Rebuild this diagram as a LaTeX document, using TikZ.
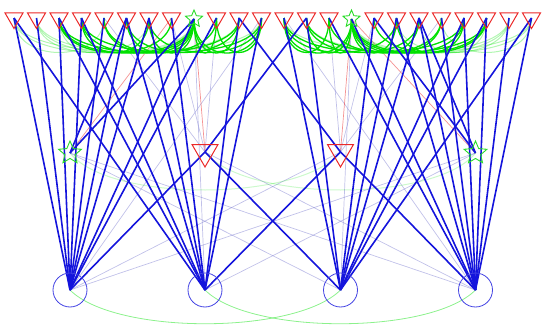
\documentclass[tikz,border=0pt]{standalone}
\usetikzlibrary{shapes.geometric,backgrounds}
\definecolor{edgeblue}{RGB}{20,20,220}
\definecolor{nodered}{RGB}{235,40,40}
\definecolor{nodegreen}{RGB}{40,220,40}
\definecolor{linkgreen}{RGB}{0,225,0}
\definecolor{faintblue}{RGB}{100,100,200}
\tikzset{
  tri/.style      = {draw=nodered, line width=1pt, regular polygon, regular polygon sides=3,
                     shape border rotate=180, minimum size=21pt, inner sep=0pt},
  bigtri/.style   = {tri, minimum size=30pt},
  hub/.style      = {draw=nodegreen, line width=0.9pt, star, star points=5, star point ratio=2.2,
                     minimum size=18pt, inner sep=0pt},
  bighub/.style   = {hub, minimum size=24pt},
  sink/.style     = {circle, draw=edgeblue!80, line width=0.8pt, minimum size=34pt, inner sep=0pt},
  link/.style     = {edgeblue, line width=1.6pt},
  ghost/.style    = {faintblue, line width=0.7pt, opacity=0.4},
  redghost/.style = {nodered, line width=0.7pt, opacity=0.5},
  arc/.style      = {linkgreen, line width=1.3pt},
  faintarc/.style = {linkgreen, line width=1pt, opacity=0.3},
}
\begin{document}
\begin{tikzpicture}[x=1pt,y=-1pt]
  \useasboundingbox (0,0) rectangle (550,332);
  \foreach \i in {0,...,7,9,10,...,14,16,17,...,23}
    \node[tri] (t\i) at ({14+22.5*\i},18) {};
  \node[hub] (t8) at (194,19) {};
  \node[hub] (t15) at (351.5,19) {};
  \node[bighub] (m1) at (70,153) {};
  \node[bigtri] (m2) at (205,152) {};
  \node[bigtri] (m3) at (340.5,152) {};
  \node[bighub] (m4) at (475.5,153) {};
  \node[sink] (b1) at (70,290) {};
  \node[sink] (b2) at (205,290) {};
  \node[sink] (b3) at (340.5,290) {};
  \node[sink] (b4) at (475.5,290) {};
  \begin{scope}[on background layer]
    \foreach \a/\b in {m3/b1, m4/b1, m4/b2, m1/b3, m1/b4, m2/b4, t8/b2, t15/b3,
                       t7/m2, t9/m2, t14/m3, t16/m3, t11/b1, t12/b4, t4/m2, t19/m3}
      \draw[ghost] (\a.center) -- (\b.center);
    \foreach \a/\b in {t8/m2, t15/m3, t15/m4, t7/m1}
      \draw[redghost] (\a.center) -- (\b.center);
    \foreach \a/\b in {m1/m3, m2/m4}
      \draw[faintarc, opacity=0.2] (\a.center) .. controls +(40,50) and +(-40,50) .. (\b.center);
    \foreach \a/\b in {b1/b3, b2/b4}
      \draw[arc, opacity=0.45, line width=0.8pt] (\a.center) .. controls +(45,45) and +(-45,45) .. (\b.center);
    \foreach \a/\b in {t0/t8, t1/t8, t0/t4, t1/t6, t0/t11, t1/t10, t2/t5,
                       t23/t15, t22/t15, t23/t19, t22/t17, t23/t12, t22/t13, t21/t18}
      \draw[faintarc] (\a.center) .. controls +(0,46) and +(0,46) .. (\b.center);
    \foreach \a/\b in {t8/t2, t8/t3, t8/t4, t8/t5, t8/t6, t8/t9, t8/t10, t8/t11,
                       t2/t10, t3/t11, t5/t10, t6/t11, t4/t9, t2/t7, t9/t11, t3/t6,
                       t15/t21, t15/t20, t15/t19, t15/t18, t15/t17, t15/t14, t15/t13, t15/t12,
                       t21/t13, t20/t12, t18/t13, t17/t12, t19/t14, t21/t16, t14/t12, t20/t17}
      \draw[arc] (\a.center) .. controls +(0,46) and +(0,46) .. (\b.center);
    \foreach \a/\b in {t0/b1, t1/b1, t2/b1, t3/b1, t4/b1, t5/b1, t6/b1, t8/b1, t9/b1,
                       t0/b2, t2/b2, t3/b2, t5/b2, t6/b2, t7/b2, t10/b2, t11/b2,
                       t5/m1, t8/m1, t13/m2, m2/b1, m2/b3,
                       t23/b4, t22/b4, t21/b4, t20/b4, t19/b4, t18/b4, t17/b4, t15/b4, t14/b4,
                       t23/b3, t21/b3, t20/b3, t18/b3, t17/b3, t16/b3, t13/b3, t12/b3,
                       t18/m4, t16/m4, t10/m3, m3/b4, m3/b2}
      \draw[link] (\a.center) -- (\b.center);
  \end{scope}
\end{tikzpicture}
\end{document}
